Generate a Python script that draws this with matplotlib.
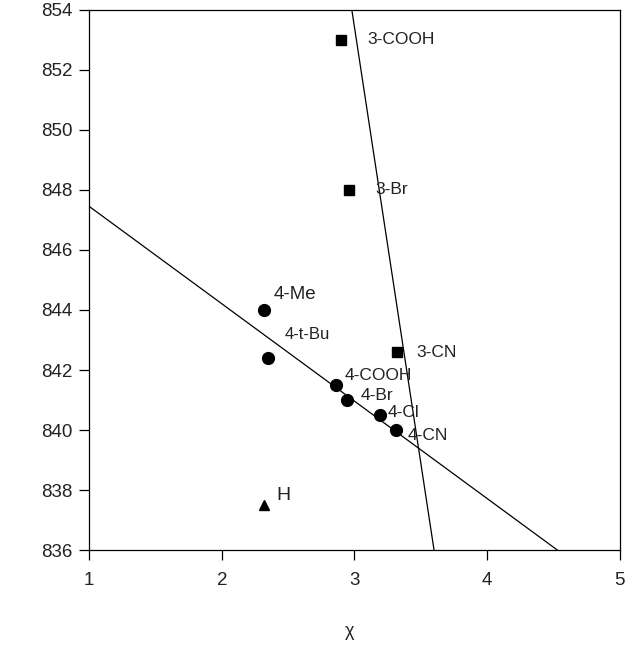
import matplotlib.pyplot as plt

plt.rcParams['font.family'] = ['Liberation Sans', 'DejaVu Sans']

# substituent points
meta_names = ['3-COOH', '3-Br', '3-CN']
meta_x = [2.90, 2.96, 3.32]
meta_y = [853.0, 848.0, 842.6]

para_names = ['4-Me', '4-t-Bu', '4-COOH', '4-Br', '4-Cl', '4-CN']
para_x = [2.32, 2.35, 2.86, 2.94, 3.19, 3.31]
para_y = [844.0, 842.4, 841.5, 841.0, 840.5, 840.0]

h_name = 'H'
h_x = [2.32]
h_y = [837.5]

# fitted lines (end points)
para_line_x = [1.0, 4.53]
para_line_y = [847.45, 836.0]
meta_line_x = [2.98, 3.60]
meta_line_y = [854.0, 836.0]

# label offsets in points
meta_off = [(19, 0), (19, 0), (14, 0)]
para_off = [(7, 11), (12, 17), (6, 7), (10, 3), (6, 2), (9, -4)]
para_size = [13.5, 12, 12.5, 12.5, 12.5, 12.5]
h_off = (9, 7)

fig = plt.figure(figsize=(6.33, 6.58), dpi=100)
ax = fig.add_axes([0.141, 0.164, 0.838, 0.821])

ax.plot(para_line_x, para_line_y, color='black', lw=0.9)
ax.plot(meta_line_x, meta_line_y, color='black', lw=0.9)

ax.plot(meta_x, meta_y, 's', color='black', markersize=7)
ax.plot(para_x, para_y, 'o', color='black', markersize=8.5)
ax.plot(h_x, h_y, '^', color='black', markersize=7)

for name, x, y, off in zip(meta_names, meta_x, meta_y, meta_off):
    ax.annotate(name, (x, y), xytext=off, textcoords='offset points',
                fontsize=12.5, va='center', ha='left', color='#222222')
for name, x, y, off, fs in zip(para_names, para_x, para_y, para_off, para_size):
    ax.annotate(name, (x, y), xytext=off, textcoords='offset points',
                fontsize=fs, va='center', ha='left', color='#222222')
ax.annotate(h_name, (h_x[0], h_y[0]), xytext=h_off, textcoords='offset points',
            fontsize=14, va='center', ha='left', color='#222222')

ax.set_xlim(1, 5)
ax.set_ylim(836, 854)
ax.set_xticks([1, 2, 3, 4, 5])
ax.set_yticks(range(836, 855, 2))
ax.tick_params(direction='out', length=7, width=0.9, labelsize=13.5, pad=5,
               labelcolor='#222222')
ax.tick_params(axis='x', pad=9)
for s in ax.spines.values():
    s.set_linewidth(0.9)

ax.set_xlabel('χ', fontsize=13, labelpad=21, color='#222222')
ax.xaxis.set_label_coords(0.49, -0.135)

plt.savefig('out.png', dpi=100)
